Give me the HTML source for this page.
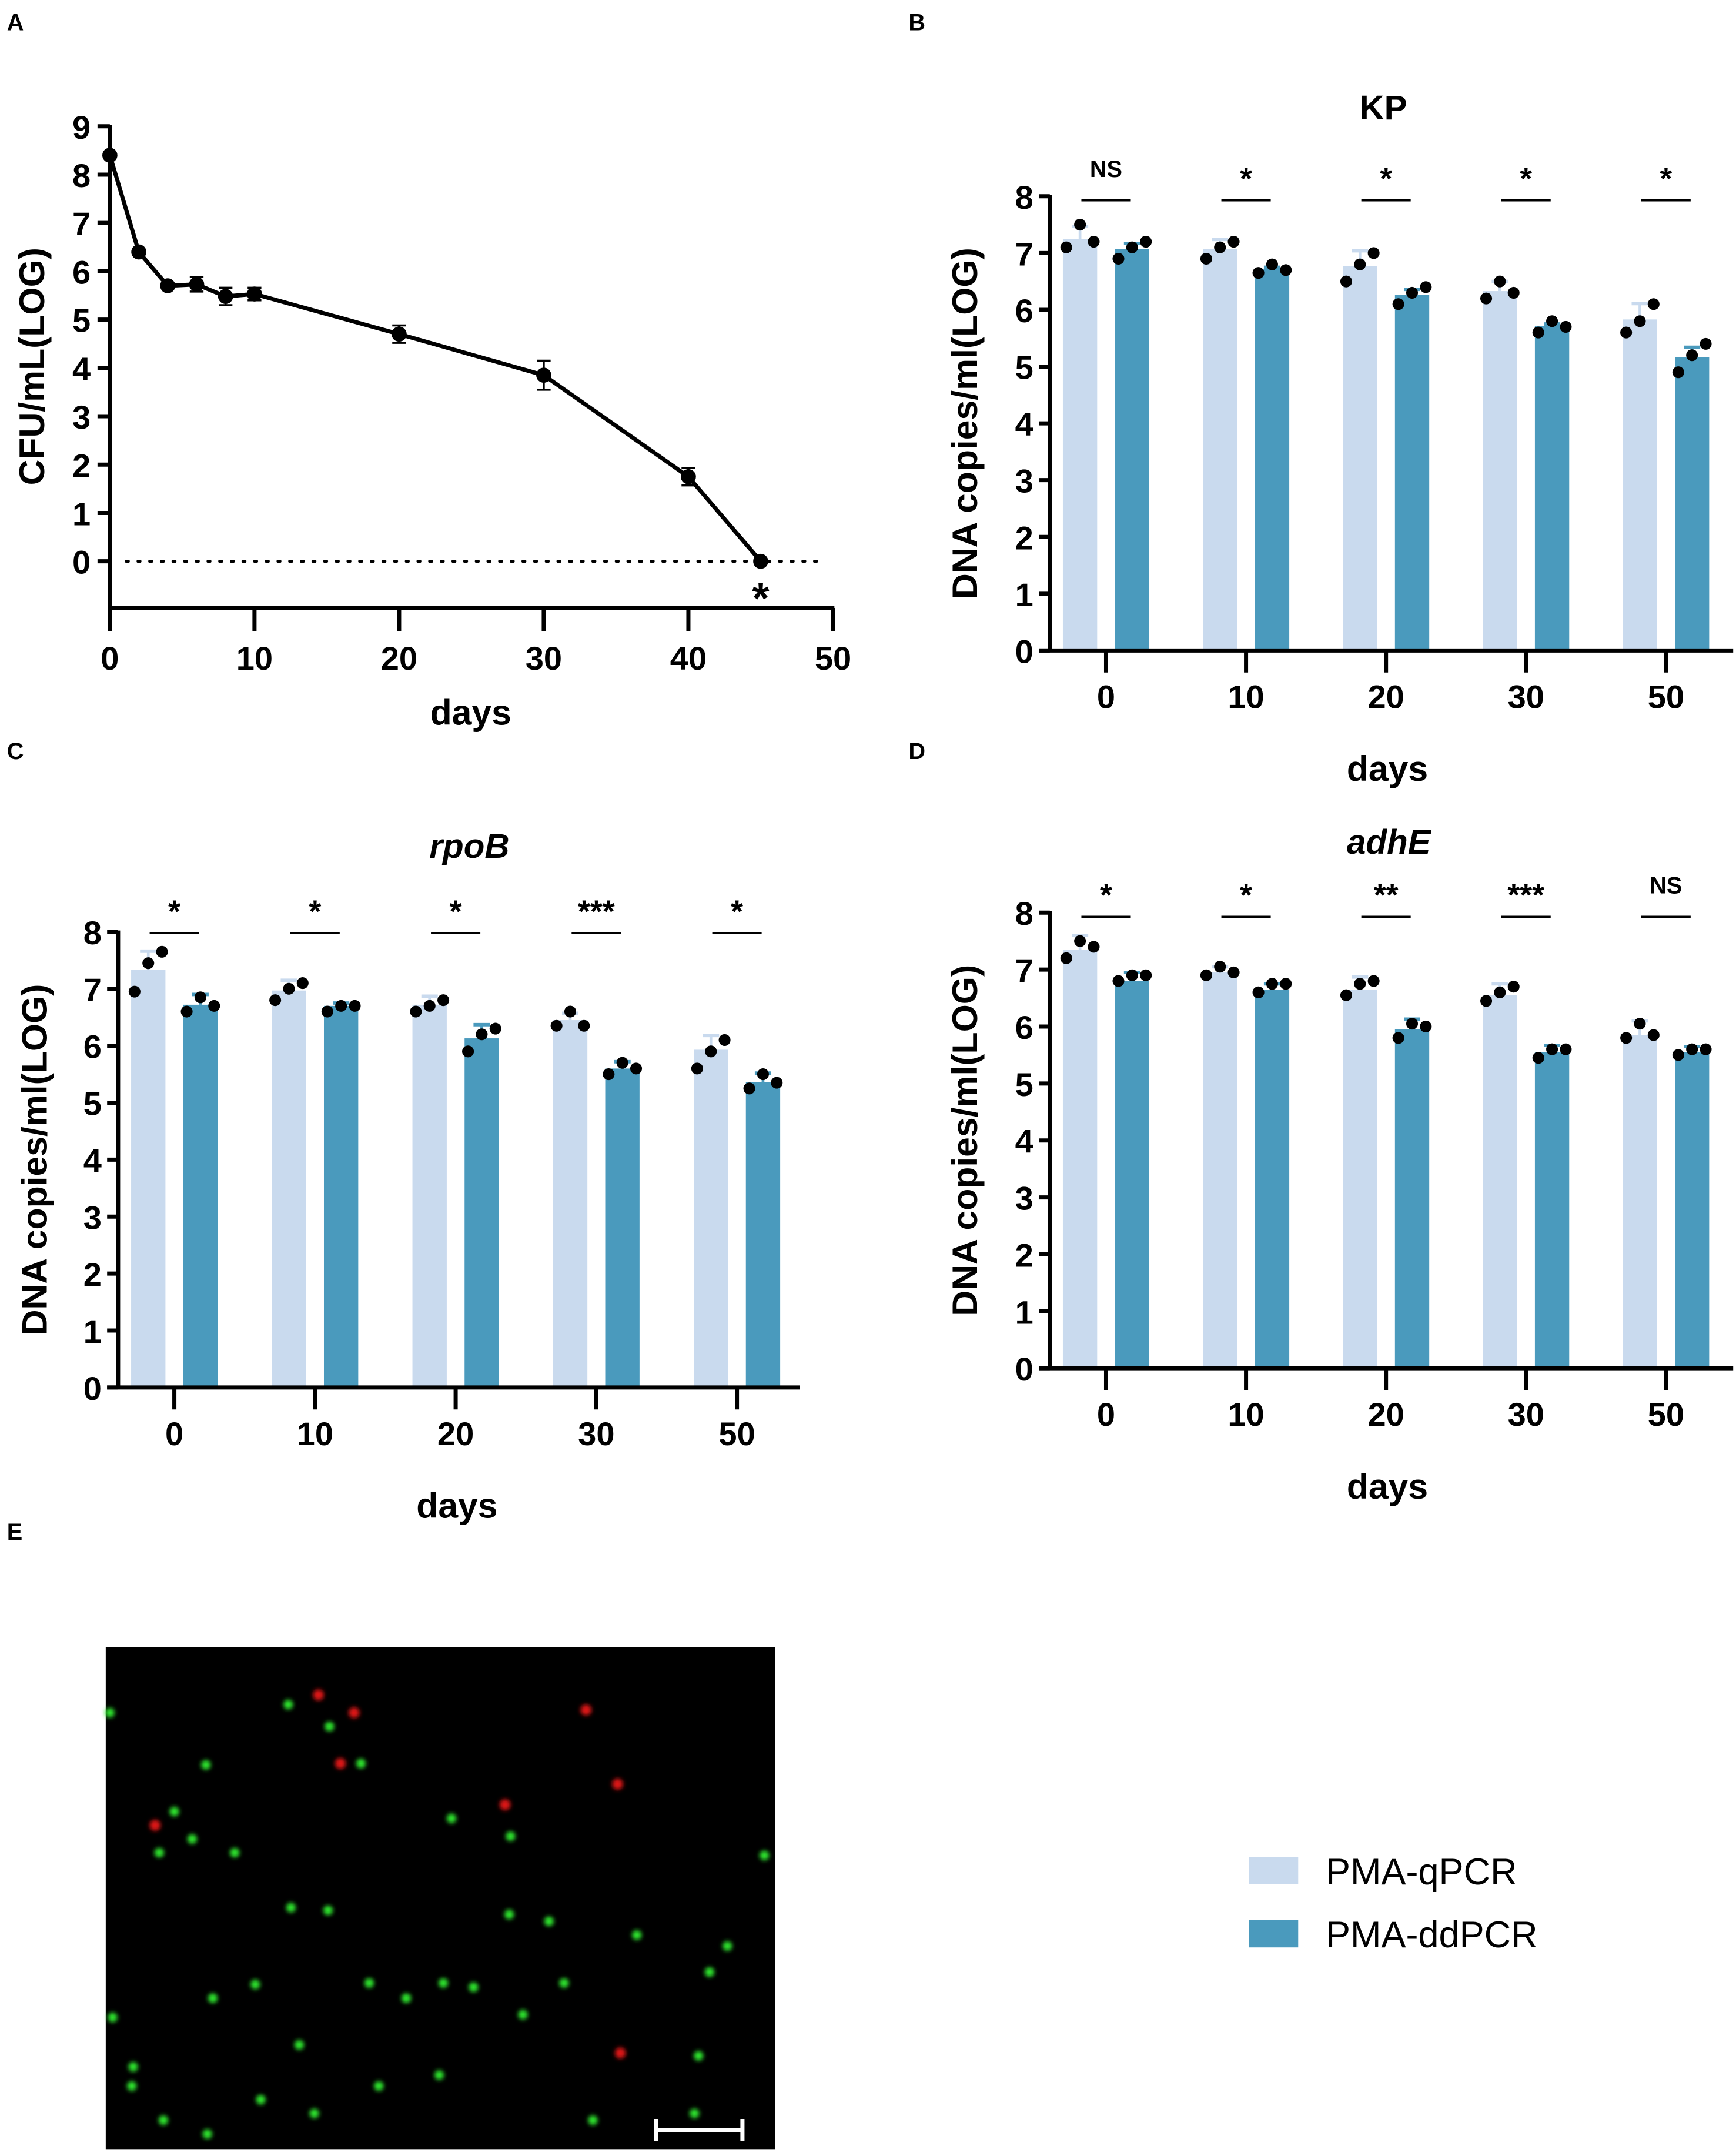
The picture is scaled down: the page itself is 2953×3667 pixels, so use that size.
<!DOCTYPE html>
<html><head><meta charset="utf-8"><style>
html,body{margin:0;padding:0;background:#fff}
svg{display:block}
text{font-family:"Liberation Sans",Arial,sans-serif}
</style></head><body>
<svg id="fig" width="2953" height="3667" viewBox="0 0 1265 1571" xmlns="http://www.w3.org/2000/svg">
<defs><filter id="blur" x="-1" y="-1" width="3" height="3"><feGaussianBlur stdDeviation="1.6"/></filter></defs>
<g id="root"></g>
</svg>
<script>
// ---- Panel A data ----
const aDays=[0,2,4,6,8,10,20,30,40,45];
const aVals=[8.4,6.4,5.7,5.73,5.48,5.53,4.7,3.85,1.75,0];
const aErr=[0,0.05,0.05,0.15,0.18,0.13,0.18,0.3,0.18,0];
const aYTicks=[0,1,2,3,4,5,6,7,8,9];
const aXTicks=[0,10,20,30,40,50];
// ---- Bar panels data ----
const barCats=["0","10","20","30","50"];
const barYTicks=[0,1,2,3,4,5,6,7,8];
const kpQ=[7.25,7.07,6.77,6.33,5.83];
const kpD=[7.07,6.72,6.26,5.72,5.17];
const kpQErr=[0.22,0.17,0.27,0.17,0.28];
const kpDErr=[0.1,0.03,0.1,0.03,0.17];
const kpQPts=[[7.1,7.5,7.2],[6.9,7.1,7.2],[6.5,6.8,7.0],[6.2,6.5,6.3],[5.6,5.8,6.1]];
const kpDPts=[[6.9,7.1,7.2],[6.65,6.8,6.7],[6.1,6.3,6.4],[5.6,5.8,5.7],[4.9,5.2,5.4]];
const kpSig=["NS","*","*","*","*"];
const rpQ=[7.33,6.97,6.72,6.45,5.93];
const rpD=[6.72,6.7,6.13,5.6,5.36];
const rpQErr=[0.33,0.18,0.15,0.12,0.25];
const rpDErr=[0.18,0.05,0.24,0.12,0.16];
const rpQPts=[[6.95,7.45,7.65],[6.8,7.0,7.1],[6.6,6.7,6.8],[6.35,6.6,6.35],[5.6,5.9,6.1]];
const rpDPts=[[6.6,6.85,6.7],[6.6,6.7,6.7],[5.9,6.2,6.3],[5.5,5.7,5.6],[5.25,5.5,5.35]];
const rpSig=["*","*","*","***","*"];
const adQ=[7.35,6.95,6.65,6.55,5.85];
const adD=[6.8,6.65,5.95,5.55,5.55];
const adQErr=[0.25,0.1,0.22,0.2,0.25];
const adDErr=[0.15,0.1,0.18,0.12,0.1];
const adQPts=[[7.2,7.5,7.4],[6.9,7.05,6.95],[6.55,6.75,6.8],[6.45,6.6,6.7],[5.8,6.05,5.85]];
const adDPts=[[6.8,6.9,6.9],[6.6,6.75,6.75],[5.8,6.05,6.0],[5.45,5.6,5.6],[5.5,5.6,5.6]];
const adSig=["*","*","**","***","NS"];

const NS="http://www.w3.org/2000/svg";
const root=document.getElementById('root');
function el(tag,attrs,parent,txt){const e=document.createElementNS(NS,tag);for(const k in attrs)e.setAttribute(k,attrs[k]);if(txt!==undefined)e.textContent=txt;(parent||root).appendChild(e);return e;}

// ---- Panel A ----
(function(){
 const g=el('g',{});
 
 
 const x0=80,x1=607,y0=409,y9=92;
 const xs=d=>x0+(x1-x0)*d/50, ys=v=>y0+(y9-y0)*v/9;
 const lbl=el('text',{x:5,y:22,'font-size':17,'font-weight':'bold'},g,'A');
 
 const ya=el('line',{x1:x0,y1:ys(9)-1,x2:x0,y2:443,stroke:'#000','stroke-width':3},g);
 
 aYTicks.forEach(t=>{el('line',{x1:x0-9,y1:ys(t),x2:x0,y2:ys(t),stroke:'#000','stroke-width':3},g);
  const tt=el('text',{x:x0-14,y:ys(t)+9,'font-size':24,'font-weight':'bold','text-anchor':'end'},g,t);
  });
 const xa=el('line',{x1:x0-1,y1:443,x2:x1+1,y2:443,stroke:'#000','stroke-width':3},g);
 
 aXTicks.forEach(t=>{el('line',{x1:xs(t),y1:443,x2:xs(t),y2:460,stroke:'#000','stroke-width':3},g);
  const tt=el('text',{x:xs(t),y:488,'font-size':24,'font-weight':'bold','text-anchor':'middle'},g,t);
  });
 el('line',{x1:x0+12,y1:ys(0),x2:x1-5,y2:ys(0),stroke:'#000','stroke-width':2.2,'stroke-dasharray':'1.5 7','stroke-linecap':'round'},g);
 const pl=el('polyline',{points:aDays.map((d,i)=>xs(d)+','+ys(aVals[i])).join(' '),fill:'none',stroke:'#000','stroke-width':3},g);
 
 aDays.forEach((d,i)=>{const x=xs(d);if(aErr[i]>0){const a=ys(aVals[i]+aErr[i]),b=ys(aVals[i]-aErr[i]);
   el('line',{x1:x,y1:a,x2:x,y2:b,stroke:'#000','stroke-width':1.5},g);
   el('line',{x1:x-5,y1:a,x2:x+5,y2:a,stroke:'#000','stroke-width':1.5},g);
   el('line',{x1:x-5,y1:b,x2:x+5,y2:b,stroke:'#000','stroke-width':1.5},g);}
  const c=el('circle',{cx:x,cy:ys(aVals[i]),r:5.5,fill:'#000'},g);
  });
 const st=el('text',{x:xs(45),y:ys(0)+38,'font-size':32,'font-weight':'bold','text-anchor':'middle'},g,'*');
 
 const xt=el('text',{x:343,y:528,'font-size':26,'font-weight':'bold','text-anchor':'middle'},g,'days');
 
 const yt=el('text',{x:0,y:0,'font-size':26,'font-weight':'bold','text-anchor':'middle',transform:'translate(32,267) rotate(-90)'},g,'CFU/mL(LOG)');
 
})();

// ---- Bar panels ----
function barPanel(o){
 const g=el('g',{});
 
 
 const ys=v=>o.y0+(o.y8-o.y0)*v/8;
 const cx=i=>o.c0+i*o.step;
 const pl=el('text',{x:o.lx,y:o.ly,'font-size':17,'font-weight':'bold'},g,o.letter);
 
 const ti=el('text',{x:o.tx,y:o.ty,'font-size':25,'font-weight':'bold','font-style':o.italic?'italic':'normal','text-anchor':'middle'},g,o.title);
 
 for(let i=0;i<barCats.length;i++){
  const c=cx(i);
  [[o.q,o.qe,o.qp,'#c9daee',-19,'bar-pma-qpcr'],[o.d,o.de,o.dp,'#4a9abd',19,'bar-pma-ddpcr']].forEach(([v,e,p,col,off,nm])=>{
   const bx=c+off;
   const top=ys(v[i]+e[i]);
   el('line',{x1:bx,y1:ys(v[i]),x2:bx,y2:top,stroke:col,'stroke-width':2},g);
   el('line',{x1:bx-6,y1:top,x2:bx+6,y2:top,stroke:col,'stroke-width':2.5},g);
   const r=el('rect',{x:bx-12.5,y:ys(v[i]),width:25,height:ys(0)-ys(v[i]),fill:col},g);
   
   p[i].forEach((pv,j)=>{const pc=el('circle',{cx:bx+(j-1)*10,cy:ys(pv),r:4.3,fill:'#000'},g);
    });
  });
  el('line',{x1:c-18,y1:o.sigY,x2:c+18,y2:o.sigY,stroke:'#000','stroke-width':1.5},g);
  const s=o.sig[i];
  const st=el('text',{x:c,y:s==='NS'?o.sigY-17:o.sigY-8,'font-size':s==='NS'?17:23,'font-weight':'bold','text-anchor':'middle'},g,s);
  
  el('line',{x1:c,y1:ys(0),x2:c,y2:ys(0)+16,stroke:'#000','stroke-width':3},g);
  const xl=el('text',{x:c,y:ys(0)+42,'font-size':24,'font-weight':'bold','text-anchor':'middle'},g,barCats[i]);
  
 }
 const ya=el('line',{x1:o.ax,y1:ys(8)-1,x2:o.ax,y2:ys(0)+1,stroke:'#000','stroke-width':3},g);
 
 const xa=el('line',{x1:o.ax-8,y1:ys(0),x2:o.xend,y2:ys(0),stroke:'#000','stroke-width':3},g);
 
 barYTicks.forEach(t=>{el('line',{x1:o.ax-8,y1:ys(t),x2:o.ax,y2:ys(t),stroke:'#000','stroke-width':3},g);
  const tt=el('text',{x:o.ax-12,y:ys(t)+9,'font-size':24,'font-weight':'bold','text-anchor':'end'},g,t);
  });
 const xt=el('text',{x:o.dx,y:o.dy,'font-size':26,'font-weight':'bold','text-anchor':'middle'},g,'days');
 
 const yt=el('text',{x:0,y:0,'font-size':26,'font-weight':'bold','text-anchor':'middle',transform:`translate(${o.ylx},${(ys(0)+ys(8))/2}) rotate(-90)`},g,'DNA copies/ml(LOG)');
 
}
barPanel({name:'panel-b-kp-bar-chart',letter:'B',lx:662,ly:22,title:'KP',italic:false,tx:1008,ty:87,ax:765,y0:474,y8:143,c0:806,step:102,xend:1263,sigY:146,sig:kpSig,q:kpQ,d:kpD,qe:kpQErr,de:kpDErr,qp:kpQPts,dp:kpDPts,dx:1011,dy:569,ylx:712});
barPanel({name:'panel-c-rpob-bar-chart',letter:'C',lx:5,ly:553,title:'rpoB',italic:true,tx:342,ty:625,ax:86,y0:1011,y8:679,c0:127,step:102.5,xend:583,sigY:680,sig:rpSig,q:rpQ,d:rpD,qe:rpQErr,de:rpDErr,qp:rpQPts,dp:rpDPts,dx:333,dy:1106,ylx:34});
barPanel({name:'panel-d-adhe-bar-chart',letter:'D',lx:662,ly:553,title:'adhE',italic:true,tx:1012,ty:622,ax:765,y0:997,y8:665,c0:806,step:102,xend:1263,sigY:668,sig:adSig,q:adQ,d:adD,qe:adQErr,de:adDErr,qp:adQPts,dp:adDPts,dx:1011,dy:1092,ylx:712});

// ---- Panel E ----
(function(){
 const g=el('g',{});
 
 
 const l=el('text',{x:5,y:1122,'font-size':17,'font-weight':'bold'},g,'E');
 
 el('rect',{x:77,y:1200,width:488,height:366,fill:'#000'},g);
 const green=[[80,1248],[127,1320],[171,1350],[210,1242],[263,1285],[240,1258],[329,1325],[372,1338],[371,1395],[400,1400],[464,1410],[517,1437],[557,1352],[212,1390],[239,1392],[186,1446],[269,1445],[323,1445],[381,1468],[411,1445],[82,1470],[97,1506],[218,1490],[296,1456],[345,1448],[509,1498],[119,1545],[151,1555],[229,1540],[320,1512],[506,1540],[96,1520],[155,1456],[116,1350],[150,1286],[432,1545],[530,1418],[276,1520],[190,1530],[140,1340]];
 const red=[[258,1248],[427,1246],[368,1315],[113,1330],[450,1300],[452,1496],[232,1235],[248,1285]];
 green.forEach(p=>{const c=el('circle',{cx:p[0],cy:p[1],r:3.5,fill:'#2ee82e',filter:'url(#blur)'},g);
  });
 red.forEach(p=>{const c=el('circle',{cx:p[0],cy:p[1],r:4,fill:'#e01818',filter:'url(#blur)'},g);
  });
 const sb=el('g',{},g);
 
 el('line',{x1:478,y1:1552,x2:541,y2:1552,stroke:'#fff','stroke-width':3},sb);
 el('line',{x1:478,y1:1544,x2:478,y2:1560,stroke:'#fff','stroke-width':3},sb);
 el('line',{x1:541,y1:1544,x2:541,y2:1560,stroke:'#fff','stroke-width':3},sb);
})();

// ---- Legend ----
(function(){
 const g=el('g',{});
 
 
 const e1=el('g',{},g);
 
 el('rect',{x:910,y:1353,width:36,height:20,fill:'#c9daee'},e1);
 el('text',{x:966,y:1373,'font-size':27},e1,'PMA-qPCR');
 const e2=el('g',{},g);
 
 el('rect',{x:910,y:1399,width:36,height:20,fill:'#4a9abd'},e2);
 el('text',{x:966,y:1419,'font-size':27},e2,'PMA-ddPCR');
})();
</script>
</body></html>
